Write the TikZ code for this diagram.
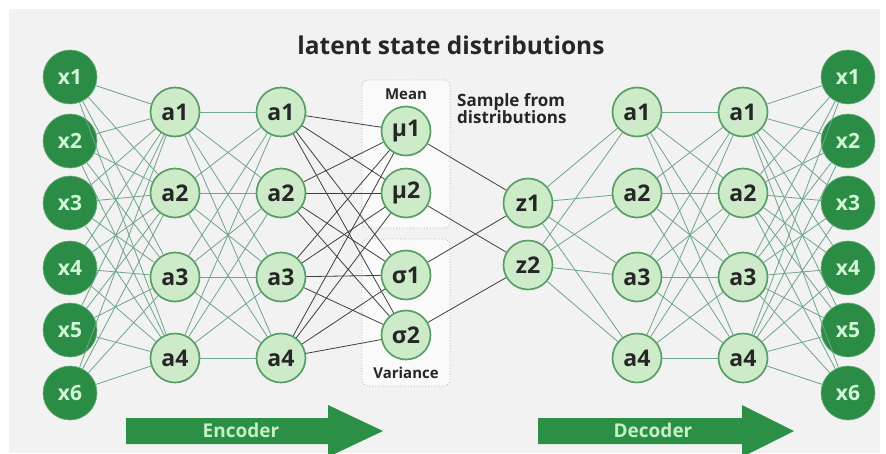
\documentclass[tikz,border=0pt]{standalone}
\usepackage{fontspec}
\setmainfont{Open Sans}
\definecolor{bgray}{HTML}{F2F2F2}
\definecolor{ingreen}{HTML}{2A8C45}
\definecolor{intext}{HTML}{D5F5D8}
\definecolor{hidfill}{HTML}{CDEBC9}
\definecolor{hidborder}{HTML}{5A9E67}
\definecolor{edgegreen}{HTML}{6FA58A}
\definecolor{edgedark}{HTML}{3F3F3F}
\definecolor{arrowgreen}{HTML}{2B8F45}
\definecolor{arrowtext}{HTML}{C4F0C8}
\definecolor{boxline}{HTML}{A8A8A8}
\tikzset{
  inp/.style={circle, fill=ingreen, draw=ingreen!70!white, line width=0.6pt,
    minimum size=54pt, inner sep=0pt, text=intext,
    font=\bfseries\fontsize{21}{21}\selectfont},
  hid/.style={circle, fill=hidfill, draw=hidborder, line width=1.7pt,
    minimum size=49pt, inner sep=0pt, text=black!85,
    font=\bfseries\fontsize{23}{23}\selectfont},
  gedge/.style={draw=edgegreen, line width=0.8pt},
  kedge/.style={draw=edgedark, line width=0.8pt},
  distbox/.style={draw=boxline, dotted, line width=0.8pt, rounded corners=6pt, fill=white!60!bgray},
  bigarrow/.style={fill=arrowgreen},
  arrowlabel/.style={text=arrowtext, font=\bfseries\fontsize{19}{19}\selectfont},
  caption/.style={text=black!85, font=\bfseries\fontsize{17}{17}\selectfont},
  boxlabel/.style={text=black!85, font=\bfseries\fontsize{15}{15}\selectfont},
}
\begin{document}
\begin{tikzpicture}[x=1pt,y=-1pt]
\useasboundingbox (0,0) rectangle (886,453);
% page background
\fill[white] (0,0) rectangle (886,453);
\fill[bgray] (9,9) rectangle (880,453);

% title
\node[text=black!85, font=\bfseries\fontsize{24.5}{24.5}\selectfont] (title) at (451,45) {latent state distributions};

% mean / variance frames
\draw[distbox] (362,80) rectangle (450,228);
\draw[distbox] (362,239) rectangle (450,386);
\node[boxlabel] (meanlbl) at (406,94) {Mean};
\node[boxlabel] (varlbl) at (406,373) {Variance};

% sampling note
\node[caption, align=left, anchor=west, inner sep=0pt] (sample) at (457,109)
  {Sample from\\distributions};

% input and output layers
\foreach \i/\y in {1/77,2/141,3/203,4/268,5/330,6/393}{
  \node[inp] (in\i) at (70,\y) {x\i};
  \node[inp] (out\i) at (848,\y) {x\i};
}
% hidden layers
\foreach \j/\y in {1/112,2/193,3/277,4/358}{
  \node[hid] (ea\j) at (175,\y) {a\j};
  \node[hid] (eb\j) at (281,\y) {a\j};
  \node[hid] (da\j) at (637,\y) {a\j};
  \node[hid] (db\j) at (743,\y) {a\j};
}
% latent parameters and samples
\node[hid] (mu1) at (406,131) {μ1};
\node[hid] (mu2) at (406,193) {μ2};
\node[hid] (sg1) at (406,275) {σ1};
\node[hid] (sg2) at (406,335) {σ2};
\node[hid] (z1) at (528,203) {z1};
\node[hid] (z2) at (528,265) {z2};

% connections
\foreach \i in {1,...,6}{
  \foreach \j in {1,...,4}{
    \draw[gedge] (in\i) -- (ea\j);
    \draw[gedge] (db\j) -- (out\i);
  }
}
\foreach \i in {1,...,4}{
  \foreach \j in {1,...,4}{
    \draw[gedge] (ea\i) -- (eb\j);
    \draw[gedge] (da\i) -- (db\j);
  }
  \foreach \t in {mu1,mu2,sg1,sg2}{
    \draw[kedge] (eb\i) -- (\t);
  }
  \draw[gedge] (z1) -- (da\i);
  \draw[gedge] (z2) -- (da\i);
}
\draw[kedge] (mu1) -- (z1);
\draw[kedge] (sg1) -- (z1);
\draw[kedge] (mu2) -- (z2);
\draw[kedge] (sg2) -- (z2);

% encoder / decoder arrows
\fill[bigarrow] (126,418) -- (328,418) -- (328,405) -- (383,431) -- (328,457) -- (328,444) -- (126,444) -- cycle;
\node[arrowlabel] (enc) at (241,430) {Encoder};
\fill[bigarrow] (538,418) -- (742,418) -- (742,405) -- (794,431) -- (742,457) -- (742,444) -- (538,444) -- cycle;
\node[arrowlabel] (dec) at (653,430) {Decoder};
\end{tikzpicture}
\end{document}
